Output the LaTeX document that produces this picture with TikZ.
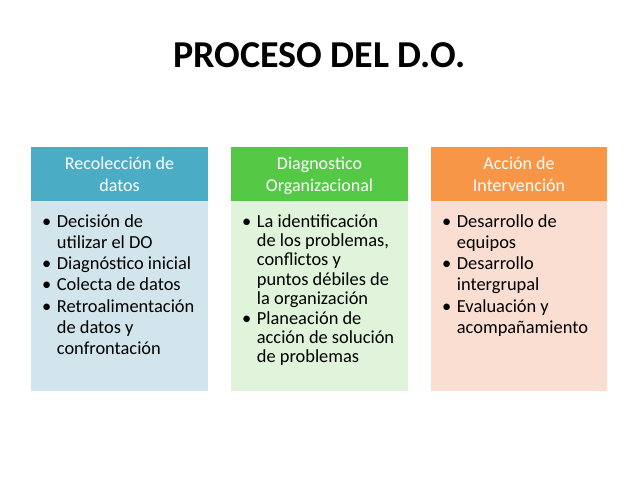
\documentclass[tikz,border=0pt]{standalone}
\usepackage{fontspec}
\setmainfont{Carlito}

\definecolor{hdrblue}{HTML}{4BACC6}
\definecolor{bodyblue}{HTML}{D3E5EC}
\definecolor{hdrgreen}{HTML}{55C846}
\definecolor{bodygreen}{HTML}{DFF4DA}
\definecolor{hdrorange}{HTML}{F79646}
\definecolor{bodyorange}{HTML}{FBDED2}

\newcommand\bul{\strut\makebox[14.7pt][l]{\textbullet}}
\newcommand\ind{\hspace*{14.7pt}}

\tikzset{
  hdr/.style={minimum width=177pt, minimum height=54pt, inner sep=0pt},
  hdrtxt/.style={inner sep=0pt, text=white, align=center, yshift=-1.9pt,
    font=\fontsize{18}{22}\selectfont},
  lst/.style={anchor=north west, inner sep=0pt, align=left,
    font=\fontsize{18.4}{21.2}\selectfont},
}

\begin{document}
\begin{tikzpicture}[x=1pt,y=-1pt]
\useasboundingbox (0,0) rectangle (638,479);

\node[anchor=base, inner sep=0pt, font=\fontsize{38}{40}\selectfont\bfseries]
  (title) at (319.5,67.3) {PROCESO DEL D.O.};

% columna 1
\fill[bodyblue] (31,201) rectangle (208,391);
\node[hdr, fill=hdrblue] (h1) at (119.5,174) {};
\node[hdrtxt] (t1) at (h1.center) {\strut Recolección de\\datos\strut};
\node[lst] (l1) at (42,212.2) {\bul Decisión de\\
\ind utilizar el DO\\
\bul Diagnóstico inicial\\
\bul Colecta de datos\\
\bul Retroalimentación\\
\ind de datos y\\
\ind confrontación};

% columna 2
\fill[bodygreen] (231,201) rectangle (408,391);
\node[hdr, fill=hdrgreen] (h2) at (319.5,174) {};
\node[hdrtxt] (t2) at (h2.center) {\strut Diagnostico\\Organizacional\strut};
\node[lst, font=\fontsize{18.4}{19.4}\selectfont] (l2) at (242,213.4) {\bul La identificación\\
\ind de los problemas,\\
\ind conflictos y\\
\ind puntos débiles de\\
\ind la organización\\
\bul Planeación de\\
\ind acción de solución\\
\ind de problemas};

% columna 3
\fill[bodyorange] (431,201) rectangle (607,391);
\node[hdr, fill=hdrorange, minimum width=176pt] (h3) at (519,174) {};
\node[hdrtxt] (t3) at (h3.center) {\strut Acción de\\Intervención\strut};
\node[lst] (l3) at (442,212.2) {\bul Desarrollo de\\
\ind equipos\\
\bul Desarrollo\\
\ind intergrupal\\
\bul Evaluación y\\
\ind acompañamiento};

\end{tikzpicture}
\end{document}
